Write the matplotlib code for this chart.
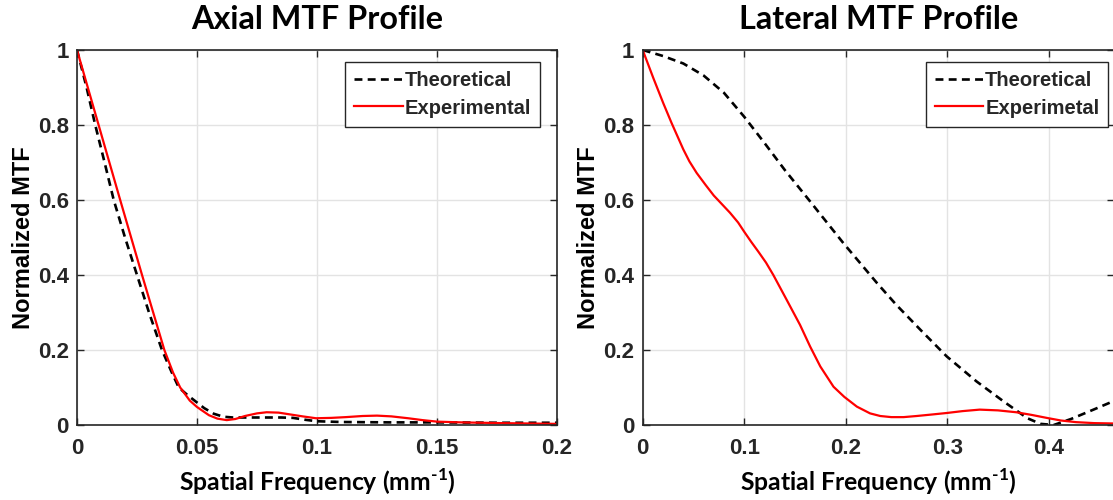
import matplotlib
matplotlib.use("Agg")
import matplotlib.pyplot as plt
from matplotlib.ticker import FuncFormatter

# ---- Axial MTF profile ----
axial_theo_freq = [0.0, 0.004, 0.0076, 0.0115, 0.0153, 0.020, 0.025, 0.030, 0.0354,
                   0.0395, 0.0424, 0.046, 0.050, 0.053, 0.057, 0.061, 0.065, 0.075,
                   0.085, 0.090, 0.095, 0.100, 0.110, 0.130, 0.150, 0.175, 0.200]
axial_theo_mtf = [1.0, 0.90, 0.80, 0.70, 0.60, 0.50, 0.40, 0.30, 0.20,
                  0.14, 0.10, 0.08, 0.060, 0.045, 0.030, 0.022, 0.020, 0.020,
                  0.020, 0.019, 0.014, 0.010, 0.008, 0.007, 0.007, 0.006, 0.006]

axial_exp_freq = [0.0, 0.009, 0.018, 0.0271, 0.0364, 0.040, 0.043, 0.047, 0.050,
                  0.055, 0.0585, 0.0624, 0.066, 0.070, 0.075, 0.079, 0.084, 0.088,
                  0.094, 0.0996, 0.106, 0.112, 0.119, 0.125, 0.131, 0.138, 0.144,
                  0.150, 0.160, 0.177, 0.200]
axial_exp_mtf = [1.0, 0.80, 0.60, 0.40, 0.20, 0.14, 0.10, 0.065, 0.048,
                 0.026, 0.017, 0.013, 0.016, 0.024, 0.031, 0.034, 0.033, 0.029,
                 0.023, 0.018, 0.019, 0.021, 0.024, 0.025, 0.023, 0.018, 0.013,
                 0.009, 0.007, 0.005, 0.003]

# ---- Lateral MTF profile ----
lateral_theo_freq = [0.0, 0.02, 0.04, 0.06, 0.08, 0.10, 0.12, 0.14, 0.165, 0.198,
                     0.231, 0.25, 0.275, 0.2995, 0.329, 0.356, 0.379, 0.392,
                     0.405, 0.422, 0.445, 0.465, 0.50]
lateral_theo_mtf = [1.0, 0.984, 0.964, 0.932, 0.886, 0.822, 0.752, 0.68, 0.596, 0.484,
                    0.378, 0.32, 0.25, 0.183, 0.116, 0.062, 0.018, 0.003,
                    0.0, 0.016, 0.042, 0.065, 0.10]

lateral_exp_freq = [0.0, 0.0105, 0.0203, 0.0285, 0.040, 0.046, 0.0532, 0.062, 0.070,
                    0.078, 0.086, 0.094, 0.1001, 0.107, 0.114, 0.1215, 0.1287,
                    0.142, 0.155, 0.165, 0.175, 0.188, 0.1986, 0.211, 0.224, 0.234,
                    0.245, 0.257, 0.270, 0.285, 0.2995, 0.315, 0.332, 0.350, 0.368,
                    0.383, 0.398, 0.412, 0.427, 0.445, 0.465, 0.50]
lateral_exp_mtf = [1.0, 0.925, 0.858, 0.805, 0.735, 0.703, 0.672, 0.640, 0.612,
                   0.589, 0.566, 0.540, 0.515, 0.488, 0.462, 0.433, 0.40,
                   0.333, 0.267, 0.209, 0.156, 0.102, 0.075, 0.049, 0.031, 0.024,
                   0.021, 0.021, 0.024, 0.028, 0.032, 0.037, 0.041, 0.039, 0.034,
                   0.027, 0.019, 0.012, 0.0076, 0.005, 0.004, 0.002]

axial_xticks = [0, 0.05, 0.1, 0.15, 0.2]
lateral_xticks = [0, 0.1, 0.2, 0.3, 0.4]
mtf_ticks = [0, 0.2, 0.4, 0.6, 0.8, 1]

plt.rcParams["font.family"] = ["Liberation Sans", "DejaVu Sans"]
plt.rcParams["font.weight"] = "bold"
plt.rcParams["mathtext.fontset"] = "custom"
plt.rcParams["mathtext.rm"] = "Lato:bold"
plt.rcParams["mathtext.bf"] = "Lato:bold"

AX_COLOR = "#262626"
W, H = 1113, 500

fig = plt.figure(figsize=(W / 100, H / 100), dpi=100)
ax1 = fig.add_axes([77 / W, 75 / H, 480 / W, 375 / H])
ax2 = fig.add_axes([642.7 / W, 75 / H, (1114 - 642.7) / W, 375 / H])


def style_axes(ax, xticks, xmax, title, ylabel_x):
    ax.set_xticks(xticks)
    ax.set_yticks(mtf_ticks)
    ax.set_xlim(0, xmax)
    ax.set_ylim(0, 1)
    fmt = FuncFormatter(lambda v, p: f"{v:g}")
    ax.xaxis.set_major_formatter(fmt)
    ax.yaxis.set_major_formatter(fmt)
    ax.tick_params(direction="in", top=True, right=True, length=5, width=1,
                   color=AX_COLOR, labelcolor=AX_COLOR, labelsize=16)
    ax.tick_params(axis="x", pad=9)
    ax.tick_params(axis="y", pad=6)
    ax.grid(True, color="#e3e3e3", linewidth=1.0)
    ax.set_axisbelow(True)
    for sp in ax.spines.values():
        sp.set_color(AX_COLOR)
        sp.set_linewidth(1.2)
    ax.set_title(title, family="Lato", fontweight="bold", fontsize=23.3,
                 color="black", pad=15)
    ax.set_xlabel(r"Spatial Frequency (mm$^{\text{-1}}$)", family="Lato",
                  fontweight="bold", fontsize=17.8, color="black")
    ax.xaxis.set_label_coords(0.5, -0.11)
    ax.set_ylabel("Normalized MTF", fontsize=17, fontweight="bold", color="black")
    ax.yaxis.set_label_coords(ylabel_x, 0.5)


dash = (3, 2)

ax1.plot(axial_theo_freq, axial_theo_mtf, color="black", linewidth=1.9,
         dashes=dash, label="Theoretical")
ax1.plot(axial_exp_freq, axial_exp_mtf, color="#ff0000", linewidth=1.6,
         label="Experimental")
style_axes(ax1, axial_xticks, 0.2, "Axial MTF Profile", -0.087)

ax2.plot(lateral_theo_freq, lateral_theo_mtf, color="black", linewidth=1.9,
         dashes=dash, label="Theoretical")
ax2.plot(lateral_exp_freq, lateral_exp_mtf, color="#ff0000", linewidth=1.6,
         label="Experimetal")
style_axes(ax2, lateral_xticks, (1114 - 642.7) / 1015, "Lateral MTF Profile", -0.090)

for ax, right in ((ax1, 0.965), (ax2, 0.988)):
    leg = ax.legend(loc="upper right", bbox_to_anchor=(right, 0.968),
                    fontsize=14.5, handlelength=2.4, handletextpad=0.1,
                    borderpad=0.45, labelspacing=0.42, borderaxespad=0,
                    fancybox=False, framealpha=1, edgecolor=AX_COLOR)
    leg.get_frame().set_linewidth(1.0)
    for t in leg.get_texts():
        t.set_color(AX_COLOR)

fig.savefig("out.png", dpi=100)
